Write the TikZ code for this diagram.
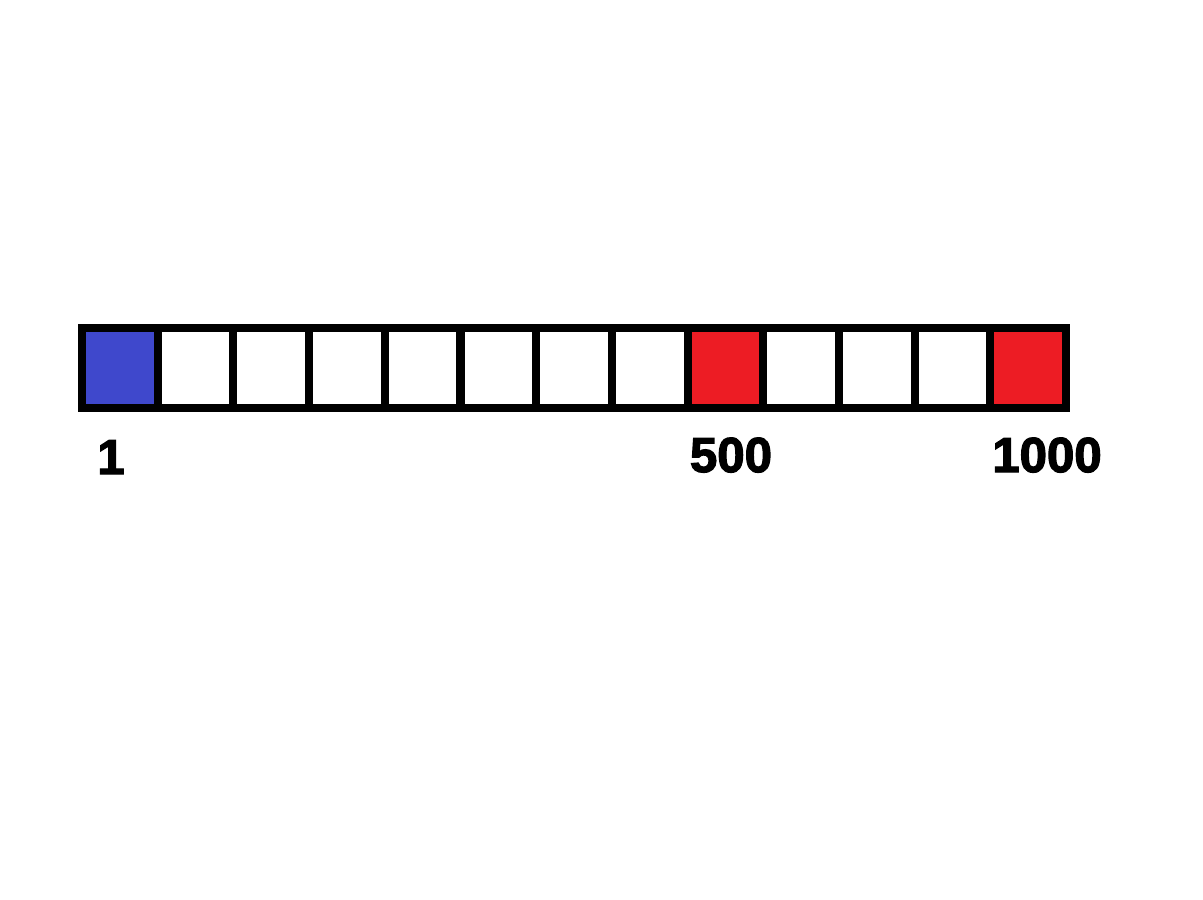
\documentclass[tikz,border=0pt]{standalone}
\usepackage{fontspec}
\setmainfont{Liberation Sans}
\newfontfamily\heavyfont[FakeBold=2.5]{Liberation Sans Bold}
\definecolor{paintblue}{RGB}{63,72,204}
\definecolor{paintred}{RGB}{237,28,36}
\begin{document}
\begin{tikzpicture}[
      x=0.02cm, y=-0.02cm,
      cell/.style={draw, line width=0.16cm, minimum width=1.514cm, minimum height=1.6cm,
                   inner sep=0pt, fill=white, anchor=center},
      bluecell/.style={cell, fill=paintblue},
      redcell/.style={cell, fill=paintred},
      lbl/.style={anchor=base, inner sep=0pt, font=\fontsize{28}{30}\selectfont\heavyfont},
    ]
    \useasboundingbox (0,0) rectangle (1203,899);

    % --- array of cells ---
    \foreach \i in {0,...,12} {
      \node[cell] (c\i) at (82+75.7*\i+37.85, 368) {};
    }
    \node[bluecell] at (c0) {};
    \node[redcell] at (c8) {};
    \node[redcell] at (c12) {};

    % --- index labels ---
    \node[lbl] (l1) at (111, 474) {1};
    \node[lbl] (l500) at (731, 472) {500};
    \node[lbl] (l1000) at (1047, 472) {1000};
  \end{tikzpicture}
\end{document}
